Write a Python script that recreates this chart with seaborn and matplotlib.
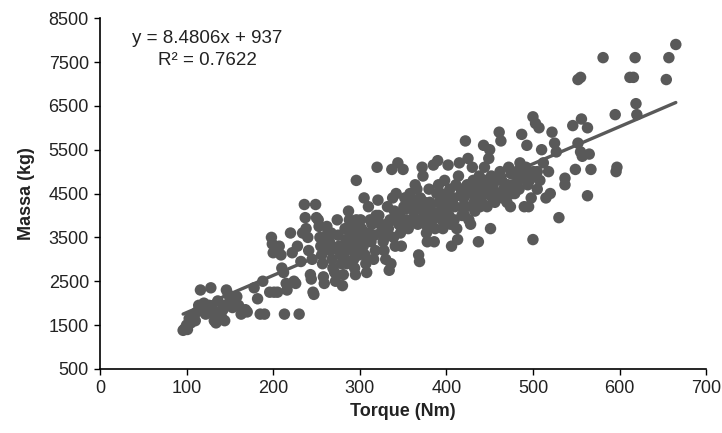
import numpy as np
import pandas as pd
import matplotlib
matplotlib.use("Agg")
import matplotlib.pyplot as plt
import seaborn as sns

# ---- data (Torque Nm, Massa kg) ----
torque_a = [96, 98, 100, 101, 103, 105, 107, 110, 112, 114, 116, 118, 120, 122, 124, 126, 128, 130, 132, 134,
            136, 138, 140, 142, 144, 146, 148, 150, 153, 156, 158, 160, 163, 166, 168, 170, 178, 182, 185, 188, 190, 196]
mass_a = [1380, 1420, 1500, 1400, 1650, 1550, 1700, 1600, 1800, 1950, 2300, 1850, 2000, 1750, 1900, 1950, 2350, 1850, 1600, 1550,
          2050, 1800, 1700, 1950, 1600, 2300, 2200, 2050, 1900, 2100, 2150, 1950, 1750, 1800, 1850, 1800, 2350, 2100, 1750, 2500, 1750, 2250]

torque_b = [198, 199, 200, 201, 205, 207, 209, 210, 212, 213, 215, 216, 220, 222, 224, 226, 230, 232, 234, 236,
            237, 238, 240, 241, 243, 244, 246, 247, 249, 250, 252, 253, 254, 255, 256, 257, 258, 259, 262, 263,
            265, 266, 268, 269, 271, 272, 274, 275, 276, 278, 279, 280, 281, 283, 284, 286, 287, 288, 289, 290,
            291, 292, 293, 294, 295, 296, 297, 298, 299]
mass_b = [3500, 3350, 3150, 2250, 2250, 3300, 3100, 2800, 2700, 1750, 2450, 2300, 3600, 3150, 2500, 2450, 1750, 2950, 3600, 4250,
          3950, 3700, 3500, 3200, 2650, 2550, 2250, 2200, 4250, 3950, 3900, 3750, 3500, 3300, 3100, 2900, 2600, 2450, 3750, 3600,
          3400, 3200, 3000, 2800, 2700, 2500, 3900, 3550, 3300, 3100, 2900, 2400, 2650, 3700, 3450, 3250, 4100, 3900, 3800, 3600,
          3400, 3200, 3000, 2800, 2650, 4800, 3500, 3300, 3100]

torque_c = [301, 302, 303, 304, 305, 306, 307, 308, 310, 311, 313, 314, 316, 318, 320, 321, 322, 324, 325, 327,
            328, 330, 332, 333, 334, 335, 336, 337, 338, 339, 340, 341, 342, 344, 345, 346, 347, 348, 350, 351,
            352, 354, 356, 358, 360, 362, 364, 365, 366, 367, 368, 369, 370, 371, 372, 373, 374, 376, 377, 378,
            380, 381, 383, 384, 385, 386, 387, 389, 390, 392, 393, 395, 396, 398, 399]
mass_c = [3900, 3700, 3500, 3300, 4400, 3100, 2900, 2700, 4200, 3600, 3400, 3800, 3000, 3200, 5100, 4350, 4000, 3800, 3600, 3400,
          3200, 3000, 4200, 3700, 2750, 3900, 2900, 5050, 4400, 3500, 4100, 3300, 4500, 5200, 3800, 4000, 3600, 3300, 5050, 4200,
          4400, 3900, 3700, 4500, 4300, 4100, 4700, 3900, 4600, 3800, 3100, 2950, 4400, 4200, 5100, 4900, 4000, 3800, 3600, 3400,
          4600, 4300, 4100, 3900, 5150, 3400, 3700, 4500, 5250, 4300, 4100, 3900, 3700, 4800, 4400]

torque_d = [401, 402, 403, 404, 405, 406, 408, 410, 412, 413, 414, 415, 417, 418, 420, 422, 423, 424, 425, 426,
            428, 429, 430, 432, 433, 435, 436, 437, 438, 440, 441, 443, 444, 445, 446, 447, 449, 450, 451, 452,
            454, 456, 458, 461, 462, 463, 464, 466, 468, 470, 472, 474, 475, 477, 479, 481, 483, 485, 487, 488,
            490, 492, 493, 494, 495, 497, 498, 500, 500, 501]
mass_d = [4200, 5150, 4000, 4600, 3800, 3300, 4400, 4200, 3700, 3450, 4900, 5200, 4600, 4000, 4400, 5700, 4200, 4700, 5300, 3900,
          3800, 4500, 5100, 4300, 4100, 4700, 4500, 3400, 4900, 4600, 4300, 5600, 5100, 4800, 4500, 4200, 5300, 5500, 3700, 4900,
          4700, 4300, 4500, 5900, 5000, 5700, 4800, 4600, 4500, 4300, 5100, 4200, 4950, 4700, 4500, 5000, 4800, 5200, 5850, 4900,
          4200, 5100, 5600, 4700, 4200, 4900, 4400, 3450, 6250, 5000]

torque_e = [503, 505, 505, 507, 508, 510, 512, 515, 518, 520, 522, 525, 527, 530, 537, 537, 546, 549, 552, 555,
            556, 557, 552, 555, 563, 563, 565, 567, 581, 595, 596, 597, 618, 612, 616, 619, 620, 657, 654, 665]
mass_e = [6100, 5000, 4600, 6000, 4800, 5500, 5200, 4400, 5000, 4500, 5900, 5650, 5450, 3950, 4700, 4850, 6050, 5050, 5650, 5450,
          6200, 5350, 7100, 7150, 4450, 6000, 5400, 5050, 7600, 6300, 5000, 5100, 7600, 7150, 7150, 6550, 6300, 7600, 7100, 7900]

# extra points filling the dense core of the cloud
torque_f = [118, 126, 134, 142, 152, 228, 245, 260, 267, 273, 282, 285, 292, 296, 309, 312, 317, 319, 326, 329,
            331, 343, 349, 353, 357, 361, 363, 375, 379, 382, 388, 391, 394, 397, 407, 409, 411, 416, 419, 421,
            427, 431, 434, 439, 442, 448, 453, 457, 465, 471, 476, 484, 489, 496]
mass_f = [1950, 1800, 1700, 1850, 1950, 3300, 3000, 3300, 3600, 3250, 3050, 2900, 3700, 3900, 3500, 3900, 3550, 4000, 3700, 3500,
          3800, 3950, 3700, 4150, 4200, 3900, 4350, 4300, 4100, 3800, 4000, 4700, 4500, 4100, 4300, 3900, 4700, 4450, 4200, 4000,
          4600, 4800, 4400, 4200, 4700, 4600, 4400, 4800, 4400, 4700, 4500, 4600, 5000, 4800]

slope = 8.4806
intercept = 937
x_ticks = [0, 100, 200, 300, 400, 500, 600, 700]
y_ticks = [500, 1500, 2500, 3500, 4500, 5500, 6500, 7500, 8500]

df = pd.DataFrame({
    "Torque": torque_a + torque_b + torque_c + torque_d + torque_e + torque_f,
    "Massa": mass_a + mass_b + mass_c + mass_d + mass_e + mass_f,
})

sns.set_style("white")
plt.rcParams["font.family"] = ["Liberation Sans", "DejaVu Sans"]

fig = plt.figure(figsize=(7.22, 4.33), dpi=100)
ax = fig.add_axes([0.1385, 0.148, 0.8395, 0.81])

grey = "#595959"
sns.scatterplot(data=df, x="Torque", y="Massa", ax=ax, color=grey, s=68,
                edgecolor="none", linewidth=0, zorder=2)

xmin, xmax = df["Torque"].min(), df["Torque"].max()
line_df = pd.DataFrame({"x": [xmin, xmax]})
line_df["y"] = slope * line_df["x"] + intercept
sns.lineplot(data=line_df, x="x", y="y", ax=ax, color=grey, linewidth=2.4, zorder=3)

ax.set_xlim(0, 700)
ax.set_ylim(500, 8500)
ax.set_xticks(x_ticks)
ax.set_yticks(y_ticks)
ax.tick_params(axis="both", direction="out", length=4, width=1, color="black",
               labelsize=13, labelcolor="#222222", left=True, bottom=True, pad=4)
for side in ["top", "right"]:
    ax.spines[side].set_visible(False)
for side in ["left", "bottom"]:
    ax.spines[side].set_color("black")
    ax.spines[side].set_linewidth(1.2)

ax.set_xlabel("Torque (Nm)", fontsize=13, fontweight="bold", color="#222222", labelpad=4)
ax.set_ylabel("Massa (kg)", fontsize=13, fontweight="bold", color="#222222", labelpad=10)

ax.text(124, 8040, "y = 8.4806x + 937", ha="center", va="center", fontsize=13.5, color="#222222")
ax.text(124, 7540, "R² = 0.7622", ha="center", va="center", fontsize=13.5, color="#222222")

fig.savefig("out.png", dpi=100)
